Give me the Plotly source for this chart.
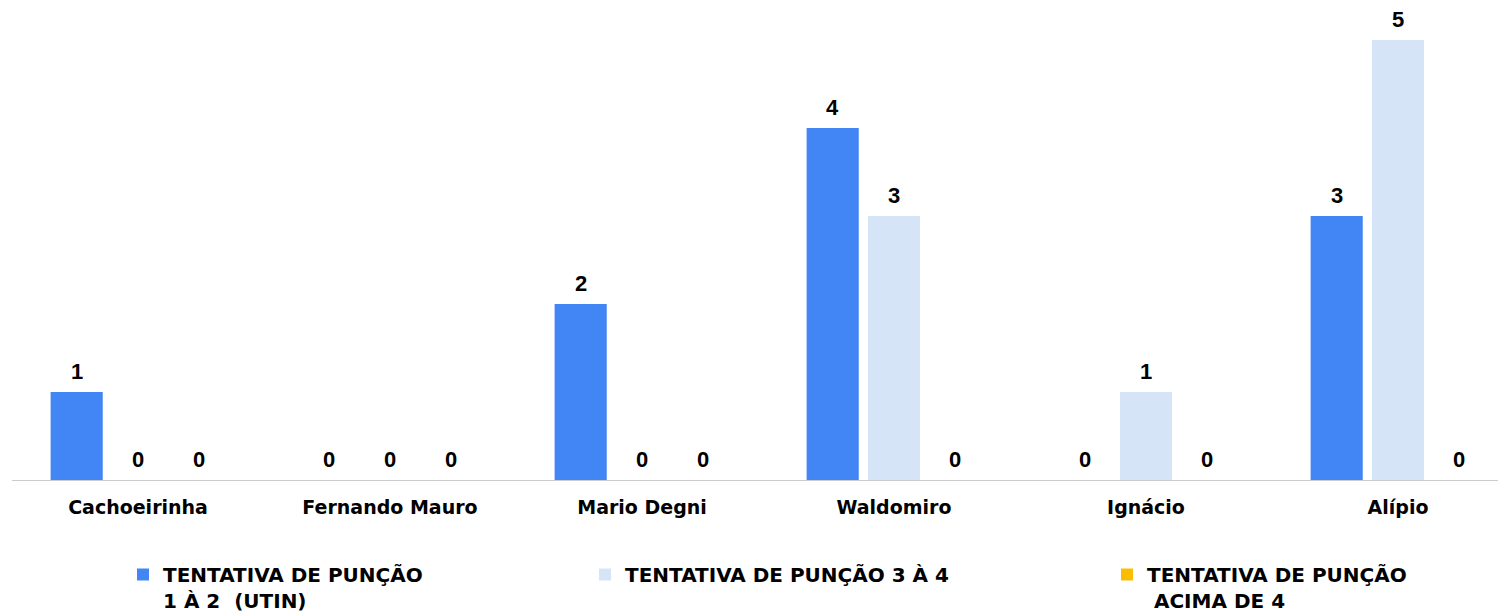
import plotly.graph_objects as go

categories = ["Cachoeirinha", "Fernando Mauro", "Mario Degni", "Waldomiro", "Ignácio", "Alípio"]
series_names = ["TENTATIVA DE PUNÇÃO<br>1 À 2  (UTIN)", "TENTATIVA DE PUNÇÃO 3 À 4", "TENTATIVA DE PUNÇÃO<br> ACIMA DE 4"]
s1 = [1, 0, 2, 4, 0, 3]
s2 = [0, 0, 0, 3, 1, 5]
s3 = [0, 0, 0, 0, 0, 0]
colors = ["#4285F4", "#D6E4F8", "#FBBC04"]

# page has an 8px body margin, so the figure is slightly smaller than the window
W, H = 1498, 606
L, R, T, B = 4, 6, 0, 134
pw = W - L - R
ph = H - T - B
PX_PER_CAT = 252.0
BARGAP = 0.27
FONT = "DejaVu Sans"

fig = go.Figure()
legend_ids = ["legend", "legend2", "legend3"]
for vals, name, col, lg in zip([s1, s2, s3], series_names, colors, legend_ids):
    fig.add_trace(go.Bar(
        x=list(range(len(categories))), y=vals,
        name="<b>" + name.replace("<br>", "</b><br><b>") + "</b>",
        marker=dict(color=col, line=dict(width=0)),
        cliponaxis=False, legend=lg,
    ))

# value labels placed at data coordinates of each bar
slot = (1 - BARGAP) / 3
for i, vals in enumerate([s1, s2, s3]):
    for j, v in enumerate(vals):
        fig.add_annotation(x=j + (i - 1) * slot, y=v, text=f"<b>{v}</b>", showarrow=False,
                           xref="x", yref="y", yanchor="bottom", yshift=6,
                           font=dict(family="Liberation Sans", size=22, color="#000000"))

def lx(px):
    return (px - L) / pw

def ly(py):
    return (H - B - py) / ph

legend_common = dict(orientation="h", yanchor="top", xanchor="left", valign="top",
                     font=dict(family=FONT, size=20, color="#000000"),
                     bgcolor="rgba(0,0,0,0)", borderwidth=0)

fig.update_layout(
    width=W, height=H,
    margin=dict(l=L, r=R, t=T, b=B, autoexpand=False),
    paper_bgcolor="#FFFFFF", plot_bgcolor="#FFFFFF",
    barmode="group", bargap=BARGAP, bargroupgap=0.15,
    font=dict(family=FONT, color="#000000"),
    xaxis=dict(
        tickmode="array", tickvals=list(range(len(categories))), ticktext=[f"<b>{c}</b>" for c in categories],
        range=[-0.5, -0.5 + pw / PX_PER_CAT],
        showline=True, linecolor="#CCCCCC", linewidth=1,
        showgrid=False, zeroline=False,
        ticks="outside", ticklen=10, tickcolor="rgba(0,0,0,0)",
        tickfont=dict(family=FONT, size=19, color="#000000"),
    ),
    yaxis=dict(range=[0, ph / 88.0], visible=False, showgrid=False, zeroline=False),
    showlegend=True,
    legend=dict(**legend_common, x=lx(115), y=ly(547)),
    legend2=dict(**legend_common, x=lx(577), y=ly(547)),
    legend3=dict(**legend_common, x=lx(1099), y=ly(547)),
)

fig.write_html("out.html")
